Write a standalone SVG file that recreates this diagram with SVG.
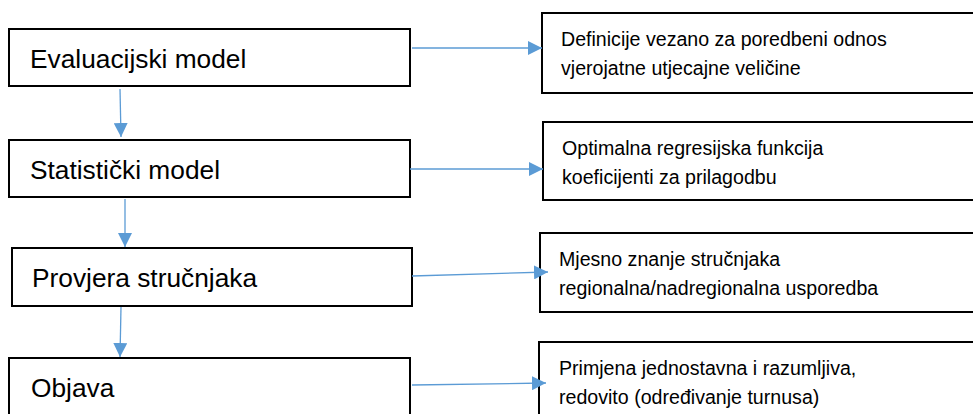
<svg xmlns="http://www.w3.org/2000/svg" width="973" height="414" viewBox="0 0 973 414">
<style>
.box{fill:#fff;stroke:#000;stroke-width:2}
.big{font-family:"Liberation Sans",Arial,sans-serif;font-size:26.3px;fill:#000}
.small{font-family:"Liberation Sans",Arial,sans-serif;font-size:19.6px;fill:#000}
.con{stroke:#5B9BD5;stroke-width:1.3;fill:none;marker-end:url(#ah)}
</style>
<defs>
<marker id="ah" markerWidth="14" markerHeight="14" refX="14" refY="7" orient="auto" markerUnits="userSpaceOnUse">
<path d="M0,0 L14,7 L0,14 Z" fill="#5B9BD5"/>
</marker>
</defs>
<rect width="973" height="414" fill="#fff"/>
<g id="n1"><rect class="box" x="9" y="29" width="401" height="57"/><text class="big" x="30" y="68">Evaluacijski model</text></g>
<g id="n2"><rect class="box" x="9" y="140" width="401" height="57"/><text class="big" x="30" y="179">Statistički model</text></g>
<g id="n3"><rect class="box" x="12" y="248" width="400" height="58"/><text class="big" x="32" y="287">Provjera stručnjaka</text></g>
<g id="n4"><rect class="box" x="9" y="358" width="401" height="70"/><text class="big" x="31" y="397">Objava</text></g>
<g id="r1"><rect class="box" x="542" y="13" width="440" height="80"/><text class="small" x="561" y="46">Definicije vezano za poredbeni odnos</text><text class="small" x="561" y="75">vjerojatne utjecajne veličine</text></g>
<g id="r2"><rect class="box" x="543" y="122" width="440" height="78"/><text class="small" x="562" y="155">Optimalna regresijska funkcija</text><text class="small" x="562" y="184">koeficijenti za prilagodbu</text></g>
<g id="r3"><rect class="box" x="540" y="233" width="440" height="79"/><text class="small" x="559" y="266">Mjesno znanje stručnjaka</text><text class="small" x="559" y="295">regionalna/nadregionalna usporedba</text></g>
<g id="r4"><rect class="box" x="539" y="342" width="440" height="90"/><text class="small" x="559" y="375">Primjena jednostavna i razumljiva,</text><text class="small" x="559" y="404">redovito (određivanje turnusa)</text></g>
<g id="connectors">
<line class="con" x1="412" y1="48" x2="542" y2="48"/>
<line class="con" x1="410" y1="169" x2="543" y2="169"/>
<line class="con" x1="412" y1="276" x2="548" y2="272"/>
<line class="con" x1="412" y1="385" x2="546" y2="383"/>
<line class="con" x1="120" y1="89" x2="121" y2="137"/>
<line class="con" x1="125" y1="199" x2="125" y2="247"/>
<line class="con" x1="121" y1="307" x2="120" y2="357"/>
</g>
</svg>
